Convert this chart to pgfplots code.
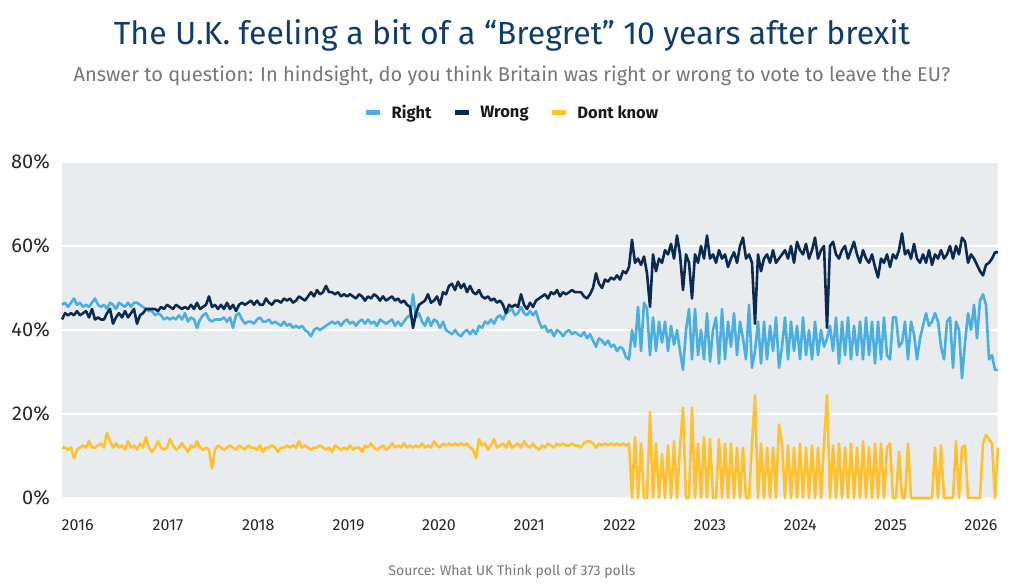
\documentclass[border=0pt]{standalone}
\usepackage{pgfplots}
\pgfplotsset{compat=1.18}
\usepackage{pgfplotstable}
\usepackage{fontspec}
\setmainfont{Fira Sans}
\definecolor{rightc}{HTML}{4AAFE0}
\definecolor{wrongc}{HTML}{0B2A50}
\definecolor{dkc}{HTML}{FFC22E}
\definecolor{titlec}{HTML}{0F3C6E}
\definecolor{subc}{HTML}{767676}
\definecolor{bgc}{HTML}{E8ECEF}

\pgfplotstableread{
i R W D
0 46 42.5 12
1 46.5 44 12
2 45.5 43.5 11.5
3 46.5 44 12
4 47.5 43.5 9.5
5 46 44.5 11.5
6 46.5 43.5 12
7 45.5 44 12.5
8 46 44.5 12
9 45.5 43 13.5
10 46.5 45 12
11 47.5 42.5 12
12 46 43 12.5
13 45.5 42.5 13
14 46 42.5 12
15 45 44 15.5
16 46.5 45 13.5
17 46 41.5 12
18 45 43 13
19 46.5 44 12
20 46 43 12.5
21 45.5 44.5 11.5
22 46.5 43 13.5
23 45.5 44 12
24 46.5 45 12.5
25 46.5 41.5 11.5
26 46 43.5 13
27 45.5 44 12
28 45 45 14.5
29 44.5 45 12
30 44.5 45 11
31 43.5 45 12
32 44 44.5 13.5
33 43.5 45.5 12
34 42.5 45 11.5
35 43 46 12
36 42.5 45.5 14
37 43 45 12.5
38 42.5 46 11.5
39 43.5 45.5 12
40 42.5 45 13
41 44 45.5 12
42 42 45 11
43 43 46 12.5
44 42.5 45 12
45 40.5 46.5 13.5
46 42.5 45 12
47 43.5 45.5 11.5
48 44 46 12
49 42.5 48 11.5
50 42 45.5 7
51 42.5 46 11.5
52 42.5 45 12.5
53 42.5 46 12
54 43 45 11.5
55 42 46.5 12
56 43 45 12.5
57 40.5 46 12
58 43.5 44.5 11.5
59 44 46 12.5
60 42.5 46.5 12
61 41.5 46 11.5
62 42 46.5 12.5
63 42 47 12
64 41.5 46 12
65 42.5 47 11.5
66 43 46 12.5
67 42 46 11
68 42 47.5 12
69 42.5 46.5 12
70 41.5 46 12.5
71 42 47 12
72 41.5 47 11
73 41 46.5 12
74 42 47.5 12
75 41 47 12.5
76 41.5 47.5 12
77 40.5 46.5 12.5
78 41 47 12
79 40.5 48 13.5
80 41 47.5 12
81 40 47 12.5
82 39.5 48 12
83 38.5 49 11.5
84 40 48 12
85 40.5 49.5 12
86 40 48.5 12.5
87 40.5 49 12
88 41 50.5 11.5
89 41.5 49 12
90 42 49 11
91 41.5 48.5 12.5
92 42 49 12
93 41 48 11.5
94 42 48.5 12
95 42.5 48 11.5
96 41.5 48.5 12.5
97 42 48 11.5
98 41 47.5 12
99 42 48.5 12
100 42.5 48 11
101 41.5 47 12.5
102 42.5 48 12
103 41.5 47.5 13
104 42 48.5 12
105 41 48 11.5
106 42.5 47 12
107 42 48 12.5
108 41.5 47 11.5
109 42 47.5 12
110 42.5 48 13
111 41 47 12
112 42 47.5 12.5
113 41 46.5 12
114 42 47 13
115 43 46 12
116 43.5 45.5 12.5
117 48.5 40.5 12
118 43 44 12.5
119 44 46 12
120 42 46.5 13
121 41 47 12
122 43 48.5 12.5
123 41 46.5 12
124 42.5 47 13.5
125 42 48 12.5
126 40.5 46 12
127 42 49 13
128 40 48.5 12.5
129 39.5 50.5 13
130 39 51 12.5
131 40 49.5 13
132 39 51.5 12.5
133 38.5 50 13
134 39.5 51 12.5
135 40 49 13
136 39 50.5 12
137 40 49 11.5
138 39 48.5 9.5
139 41 49.5 14
140 40.5 48 12.5
141 42 47.5 13
142 41.5 48 11.5
143 42.5 47 12.5
144 41.5 47.5 14
145 43 46.5 12
146 43.5 47 12.5
147 42.5 46 13
148 44 44 12
149 44.5 46 13.5
150 45 45.5 12
151 43.5 46 12.5
152 44 45.5 13
153 45.5 48.5 12
154 44 46 13.5
155 43.5 45 12.5
156 44.5 46.5 12
157 43.5 45.5 13
158 44.5 47 12
159 42 47.5 11.5
160 40.5 48 12.5
161 41 48.5 12
162 39.5 47.5 13
163 40 49 12.5
164 38.5 48.5 12
165 40 49.5 13
166 39.5 48 12.5
167 38.5 49 13
168 39.5 48.5 12.5
169 40 49 12.5
170 39 49.5 13
171 39.5 49 12.5
172 39 49 12.5
173 38.5 49 12
174 39.5 48 13
175 38 47.5 13.5
176 39 48.5 13.5
177 37.5 50 13
178 36 53.5 12
179 38 51 13
180 37.5 50 12.5
181 36.5 52 13
182 37.5 51.5 12.5
183 36 52.5 13
184 36.5 52 12.5
185 35 53 13
186 36 52 12.5
187 35.5 54 13
188 33.5 53.5 12.5
189 33 55 13
190 40 61.5 0
191 36 56 14.5
192 45.5 57 0
193 35 55.5 13
194 46.5 57.5 0
195 45 53.5 0
196 34 45.5 20.5
197 43 58 0
198 35 54 13
199 42 57 0
200 37 56 10.5
201 42 59 0
202 35 58 12.5
203 41 60.5 0
204 36.5 57 13.5
205 40 62.5 0
206 35 58 12
207 30.5 49.5 21.5
208 40 58 0
209 45 56 0
210 33 47.5 21.5
211 45 58 0
212 34 56 13
213 40 60 0
214 33 57 14.5
215 44 62.5 0
216 32.5 57 14
217 40 58 0
218 43 56 0
219 32 59 14
220 45 57 0
221 33 58 13
222 42 55 0
223 36 57 13
224 44 58.5 0
225 34 56 12
226 42 60 0
227 38 62 12
228 33 57 0
229 46 58 0
230 31 56 13
231 35 41.5 24.5
232 42 58 0
233 32 54 13
234 42 57 0
235 33 58 12
236 41 56 0
237 35 59 12
238 43 56 0
239 31 57 17.5
240 36 58 13
241 43 59 0
242 33 57 12.5
243 42 60 0
244 35 56 12
245 41 61 0
246 33 59 13
247 43 58 0
248 34 60.5 12
249 40 57 0
250 33 59 12.5
251 42 62 0
252 34 57 12
253 40 59 0
254 36 60 13
255 38 40.5 24.5
256 41 60 0
257 35 61 12.5
258 43 58 0
259 32 57 13
260 42 59 0
261 34 60 12
262 43 57 0
263 33 59 13
264 41 61 0
265 34 58 12
266 42 56 0
267 33 59 13.5
268 43 57 0
269 34 56 12
270 42 58 0
271 32 55 13
272 42 52.5 0
273 33 57 13
274 43 56 0
275 34 58 12
276 33 55 13
277 43 58 0
278 43 57 0
279 36 59 11
280 37 63 0
281 42 58 0
282 33 59 13
283 42 57 0
284 39 60.5 0
285 33 57 0
286 38 56 0
287 41 58 0
288 44 56 0
289 41 59 0
290 42 55.5 0
291 44 58 12
292 42 57 0
293 36 59 12.5
294 33 57 0
295 42 58 0
296 43 60 0
297 31 57 0
298 42 60 13.5
299 40 58 0
300 28.5 62 12
301 37 61 12.5
302 44 56 0
303 40 58 0
304 46 57 0
305 38 55.5 0
306 47 54 0
307 48.5 53 13
308 46 55.5 15
309 33 56 14
310 34 57 13
311 30.5 58.5 0
312 30.5 58.5 12
}\polls

\begin{document}
\begin{tikzpicture}
\useasboundingbox (0pt,0pt) rectangle (1024pt,588pt);
\node[anchor=base, text=titlec, font=\fontsize{32}{36}\selectfont] at (512pt,543pt) {The U.K. feeling a bit of a “Bregret” 10 years after brexit};
\node[anchor=base, text=subc, font=\fontsize{20}{24}\selectfont] at (512pt,506pt) {Answer to question: In hindsight, do you think Britain was right or wrong to vote to leave the EU?};
\node[anchor=base, text=subc, font=\fontsize{14}{16}\selectfont] at (512pt,12pt) {Source: What UK Think poll of 373 polls};
\begin{axis}[
  at={(62pt,90pt)}, anchor=south west,
  width=936pt, height=336pt, scale only axis,
  xmin=0, xmax=312, ymin=0, ymax=80,
  clip=false,
  axis background/.style={fill=bgc},
  axis line style={draw=none},
  tick style={draw=none},
  ytick={0,20,40,60,80},
  yticklabel={\pgfmathprintnumber{\tick}\%},
  yticklabel style={font=\fontsize{20}{22}\selectfont, text=black!85, anchor=east, inner sep=0pt, xshift=-12pt},
  ymajorgrids,
  grid style={white, line width=2.5pt},
  xtick={5.2,35.31,65.42,95.53,125.64,155.75,185.86,215.97,246.08,276.19,306.3},
  xticklabels={2016,2017,2018,2019,2020,2021,2022,2023,2024,2025,2026},
  xticklabel style={font=\fontsize{16}{18}\selectfont, text=black!85, anchor=north, inner sep=0pt, yshift=-21pt},
  /pgf/number format/assume math mode=true,
  legend columns=3,
  legend style={at={(0.4808,1.146)}, anchor=center, draw=none, fill=none,
    font=\fontsize{16.5}{18}\selectfont\bfseries, text=black!90,
    /tikz/every even column/.append style={column sep=19pt}},
  legend image code/.code={\draw[#1, line width=5pt, line cap=butt] (0pt,0pt) -- (14pt,0pt); \path (22pt,0pt);},
  every axis plot/.append style={line width=2.6pt, line join=round},
]
\addplot[rightc] table[x=i, y=R] {\polls};
\addlegendentry{Right}
\addplot[wrongc] table[x=i, y=W] {\polls};
\addlegendentry{Wrong}
\addplot[dkc] table[x=i, y=D] {\polls};
\addlegendentry{Dont know}
\end{axis}
\end{tikzpicture}
\end{document}
